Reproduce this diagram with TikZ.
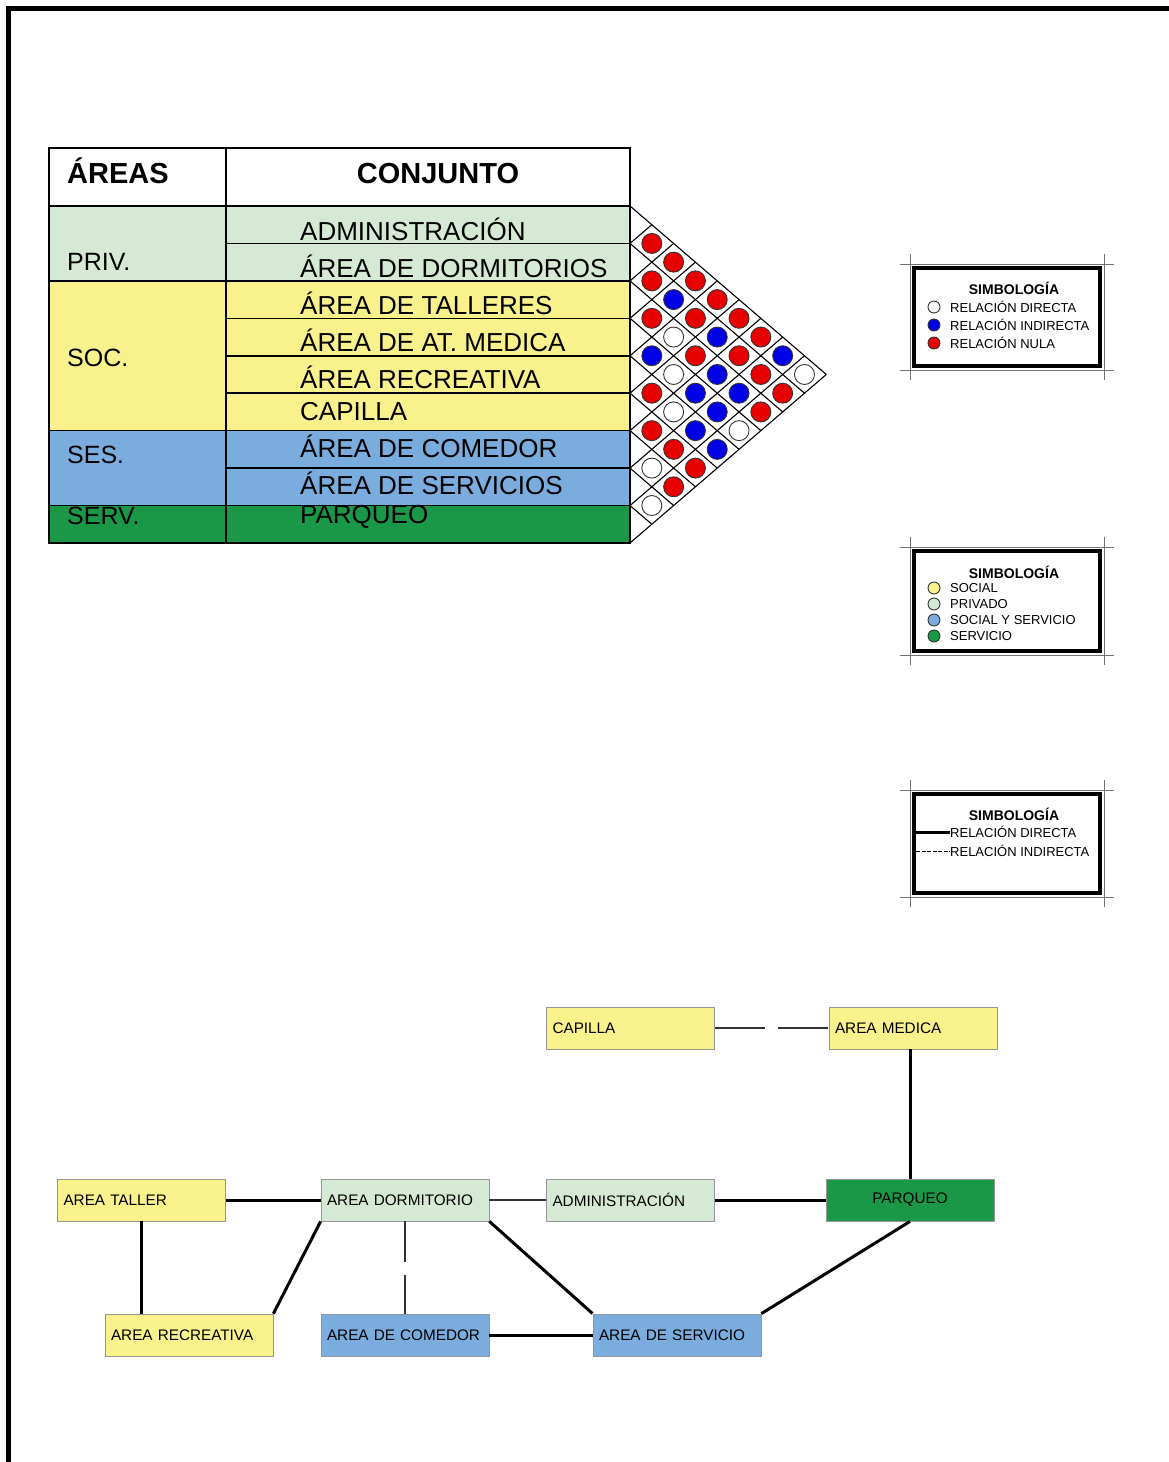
\documentclass[tikz,border=0pt]{standalone}
\usepackage{fontspec}
\setmainfont{Liberation Sans}
\usetikzlibrary{positioning}
\definecolor{privgreen}{RGB}{214,233,212}
\definecolor{socyellow}{RGB}{248,241,140}
\definecolor{sesblue}{RGB}{122,172,222}
\definecolor{servgreen}{RGB}{26,152,72}
\definecolor{relred}{RGB}{232,0,0}
\definecolor{relblue}{RGB}{0,0,230}
\definecolor{boxedge}{RGB}{150,150,150}

\begin{document}
\begin{tikzpicture}[
    x=1pt, y=-1pt,
    tabline/.style={line width=1.6pt},
    gridline/.style={line width=1.1pt},
    relcirc/.style={draw=black!80, line width=0.9pt},
    hdr/.style={font=\fontsize{29}{31}\selectfont\bfseries, inner sep=0pt, anchor=base},
    arealabel/.style={font=\fontsize{25}{27}\selectfont, inner sep=0pt, anchor=base west},
    rowlabel/.style={font=\fontsize{26}{28}\selectfont, inner sep=0pt, anchor=base west},
    framethin/.style={draw=black!55, line width=0.8pt},
    framethick/.style={draw=black, line width=4pt},
    legtitle/.style={font=\fontsize{14}{16}\selectfont\bfseries, inner sep=0pt},
    legtext/.style={font=\fontsize{13}{15}\selectfont, inner sep=0pt, anchor=west},
    areabox/.style={draw=boxedge, line width=0.8pt, minimum width=168pt, minimum height=42pt,
                    text width=156pt, align=left, inner xsep=6pt, font=\fontsize{15.3}{17}\selectfont},
    direct/.style={line width=3pt},
    indirect/.style={line width=1.1pt, draw=black!80}
]
\useasboundingbox (0,0) rectangle (1168,1462);
\fill[white] (0,0) rectangle (1168,1462);
% page frame
\draw[line width=5pt] (8,1470) -- (8,8) -- (1175,8);

% matrix table
\fill[privgreen] (49,206) rectangle (630,281);
\fill[socyellow] (49,281) rectangle (630,431);
\fill[sesblue] (49,431) rectangle (630,506);
\fill[servgreen] (49,506) rectangle (630,543);
\foreach \r in {1,...,8}
  \draw[tabline] (226,{206+37.44*\r}) -- (630,{206+37.44*\r});
\foreach \r in {2,6,8}
  \draw[tabline] (49,{206+37.44*\r}) -- (226,{206+37.44*\r});
\draw[tabline] (49,206) -- (630,206);
\draw[tabline] (226,148) -- (226,543);
\draw[tabline] (49,148) rectangle (630,543);

\node[hdr, anchor=base west] (areas) at (67,183) {ÁREAS};
\node[hdr] (conjunto) at (438,183) {CONJUNTO};

\node[arealabel] (priv) at (67,270) {PRIV.};
\node[arealabel] (soc) at (67,366) {SOC.};
\node[arealabel] (ses) at (67,463) {SES.};
\node[arealabel] (serv) at (67,524) {SERV.};

\node[rowlabel] (admin) at (300,240) {ADMINISTRACIÓN};
\node[rowlabel] (dorm) at (300,277) {ÁREA DE DORMITORIOS};
\node[rowlabel] (talleres) at (300,314) {ÁREA DE TALLERES};
\node[rowlabel] (medica) at (300,351) {ÁREA DE AT. MEDICA};
\node[rowlabel] (recrea) at (300,388) {ÁREA RECREATIVA};
\node[rowlabel] (capi) at (300,420) {CAPILLA};
\node[rowlabel] (comedor) at (300,457) {ÁREA DE COMEDOR};
\node[rowlabel] (servi) at (300,494) {ÁREA DE SERVICIOS};
\node[rowlabel] (parq) at (300,523) {PARQUEO};

% relation grid
\foreach \i in {0,...,9}{
  \pgfmathsetmacro{\yy}{206+37.44*\i}
  \draw[gridline] (630,\yy) -- ({630+1.165*(543-\yy)/2},{(\yy+543)/2});
  \draw[gridline] (630,\yy) -- ({630+1.165*(\yy-206)/2},{(\yy+206)/2});
}
\foreach \a/\b/\c in {1/2/relred,2/3/relred,3/4/relred,4/5/relblue,5/6/relred,6/7/relred,7/8/white,8/9/white,
                      1/3/relred,2/4/relblue,3/5/white,4/6/white,5/7/white,6/8/relred,7/9/relred,
                      1/4/relred,2/5/relred,3/6/relred,4/7/relblue,5/8/relblue,6/9/relred,
                      1/5/relred,2/6/relblue,3/7/relblue,4/8/relblue,5/9/relblue,
                      1/6/relred,2/7/relred,3/8/relblue,4/9/white,
                      1/7/relred,2/8/relred,3/9/relred,
                      1/8/relblue,2/9/relred,
                      1/9/white}
  \draw[relcirc, fill=\c] ({630+1.165*(\b-\a)*18.72},{206+(\a+\b-1)*18.72}) circle[radius=10pt];

% legend frames
\foreach \t/\b in {264/370,547/655,790/897}{
  \draw[framethin] (900,\t) -- (1114,\t);
  \draw[framethin] (900,\b) -- (1114,\b);
  \draw[framethin] (910,{\t-10}) -- (910,{\b+10});
  \draw[framethin] (1104,{\t-10}) -- (1104,{\b+10});
  \draw[framethick] (914,{\t+4}) rectangle (1100,{\b-4});
}

% legend 1
\node[legtitle] (simb1) at (1014,288) {SIMBOLOGÍA};
\draw[relcirc, fill=white] (934,307) circle[radius=6pt];
\draw[relcirc, fill=relblue] (934,325) circle[radius=6pt];
\draw[relcirc, fill=relred] (934,343) circle[radius=6pt];
\node[legtext] (ldirecta) at (950,307) {RELACIÓN DIRECTA};
\node[legtext] (lindirecta) at (950,325) {RELACIÓN INDIRECTA};
\node[legtext] (lnula) at (950,343) {RELACIÓN NULA};

% legend 2
\node[legtitle] (simb2) at (1014,572) {SIMBOLOGÍA};
\draw[relcirc, fill=socyellow] (934,588) circle[radius=6pt];
\draw[relcirc, fill=privgreen] (934,604) circle[radius=6pt];
\draw[relcirc, fill=sesblue] (934,620) circle[radius=6pt];
\draw[relcirc, fill=servgreen] (934,636) circle[radius=6pt];
\node[legtext] (lsocial) at (950,588) {SOCIAL};
\node[legtext] (lprivado) at (950,604) {PRIVADO};
\node[legtext] (lsocserv) at (950,620) {SOCIAL Y SERVICIO};
\node[legtext] (lservicio) at (950,636) {SERVICIO};

% legend 3
\node[legtitle] (simb3) at (1014,814) {SIMBOLOGÍA};
\node[legtext] (ldir) at (950,832) {RELACIÓN DIRECTA};
\node[legtext] (lind) at (950,851) {RELACIÓN INDIRECTA};
\coordinate (ldirstart) at (914,832);
\coordinate (lindstart) at (916,851);
\draw[direct] (ldirstart) -- (ldir.west);
\draw[line width=0.8pt, dash pattern=on 4pt off 1.5pt] (lindstart) -- (lind.west);

% relation diagram
\node[areabox, fill=socyellow] (capilla) at (630.5,1028) {CAPILLA};
\node[areabox, fill=socyellow] (amedica) at (913,1028) {AREA MEDICA};
\node[areabox, fill=socyellow] (taller) at (141.5,1200) {AREA TALLER};
\node[areabox, fill=privgreen] (dormitorio) at (405,1200) {AREA DORMITORIO};
\node[areabox, fill=privgreen] (administ) at (630.5,1200) {ADMINISTRACIÓN};
\node[areabox, fill=servgreen, align=center] (parqueo) at (910,1200) {PARQUEO};
\node[areabox, fill=socyellow] (recreativa) at (189,1335) {AREA RECREATIVA};
\node[areabox, fill=sesblue] (acomedor) at (405,1335) {AREA DE COMEDOR};
\node[areabox, fill=sesblue] (aservicio) at (677,1335) {AREA DE SERVICIO};

\draw[indirect, dash pattern=on 50pt off 13pt] (capilla) -- (amedica);
\draw[direct] (parqueo.north) -- (parqueo.north |- amedica.south);
\draw[direct] (taller) -- (dormitorio);
\draw[indirect] (dormitorio) -- (administ);
\draw[direct] (administ) -- (parqueo);
\draw[direct] (taller.south) -- (taller.south |- recreativa.north);
\draw[direct] (dormitorio.south west) -- (recreativa.north east);
\draw[indirect, dash pattern=on 41pt off 13pt] (dormitorio) -- (acomedor);
\draw[direct] (dormitorio.south east) -- (aservicio.north west);
\draw[direct] (acomedor) -- (aservicio);
\draw[direct] (parqueo.south) -- (aservicio.north east);
\end{tikzpicture}
\end{document}
